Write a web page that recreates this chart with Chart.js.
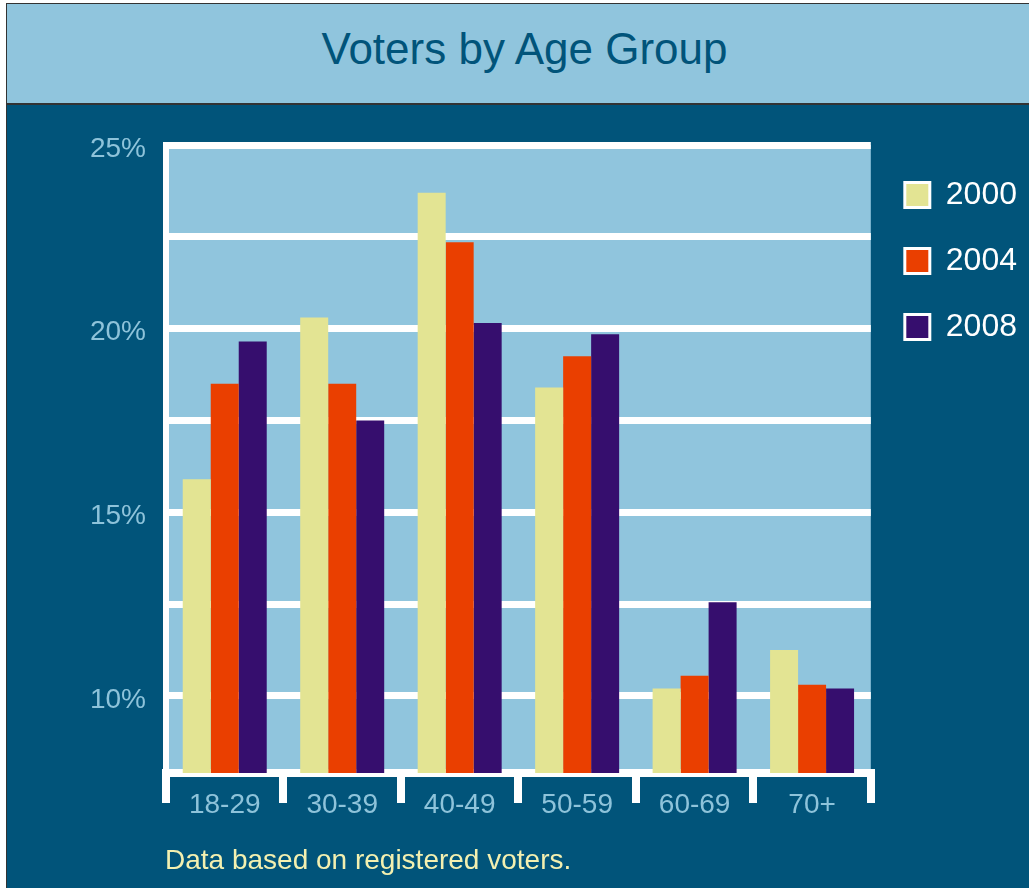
<!DOCTYPE html>
<html>
<head>
<meta charset="utf-8">
<script src="https://cdn.jsdelivr.net/npm/chart.js@4"></script>
<style>
  html, body { margin: 0; padding: 0; background: #ffffff; }
  body { width: 1029px; height: 888px; position: relative; overflow: hidden; font-family: "Liberation Sans", Arial, sans-serif; }
  #panel { position: absolute; left: 6px; top: 3px; right: -10px; bottom: -10px; background: #01547a; border-left: 1px solid #333; }
  #header { position: absolute; left: 6px; top: 3px; width: 1040px; height: 99px; background: #90c5dd; border-top: 1px solid #333; border-left: 1px solid #333; border-bottom: 2px solid #333; }
  #title { position: absolute; left: 0; top: 27px; width: 1049px; text-align: center; font-size: 44px; line-height: 44px; color: #01547a; }
  #note { position: absolute; left: 165px; top: 846px; font-size: 28px; line-height: 28px; color: #f3f0b0; }
  #chart { position: absolute; left: 0; top: 0; }
</style>
</head>
<body>
<div id="panel"></div>
<div id="header"></div>
<div id="title">Voters by Age Group</div>
<canvas id="chart" width="1029" height="888"></canvas>
<div id="note">Data based on registered voters.</div>
<script>
const ageGroups = ['18-29', '30-39', '40-49', '50-59', '60-69', '70+'];
const years = ['2000', '2004', '2008'];
const share2000 = [15.9, 20.3, 23.7, 18.4, 10.2, 11.25];
const share2004 = [18.5, 18.5, 22.35, 19.25, 10.55, 10.3];
const share2008 = [19.65, 17.5, 20.15, 19.85, 12.55, 10.2];
const gridTicks = [10, 12.5, 15, 17.5, 20, 22.5, 25];

const yearColors = ['#e3e493', '#ea3f00', '#360e6e'];
const labelBlue = '#8ec3da';
const fontFamily = '"Liberation Sans", Arial, sans-serif';

// light blue plot background
const plotBg = {
  id: 'plotBg',
  beforeDraw(chart) {
    const { ctx, chartArea: a } = chart;
    ctx.save();
    ctx.fillStyle = '#90c5dd';
    ctx.fillRect(a.left, a.top, a.right - a.left, a.bottom - a.top);
    ctx.restore();
  }
};

new Chart(document.getElementById('chart'), {
  type: 'bar',
  data: {
    labels: ageGroups,
    datasets: [share2000, share2004, share2008].map((values, i) => ({
      label: years[i],
      data: values,
      backgroundColor: yearColors[i],
      borderWidth: 0,
      categoryPercentage: 0.715,
      barPercentage: 1.0
    }))
  },
  options: {
    responsive: false,
    animation: false,
    layout: { padding: { top: 145, right: 2, bottom: 55, left: 0 } },
    plugins: {
      legend: {
        position: 'right',
        align: 'start',
        labels: {
          boxWidth: 25,
          boxHeight: 25,
          padding: 34,
          color: '#ffffff',
          font: { size: 32, family: fontFamily },
          generateLabels: (chart) => chart.data.datasets.map((ds, i) => ({
            text: ds.label,
            fillStyle: ds.backgroundColor,
            strokeStyle: '#ffffff',
            lineWidth: 3,
            fontColor: '#ffffff',
            datasetIndex: i
          }))
        }
      },
      tooltip: { enabled: false }
    },
    scales: {
      x: {
        offset: true,
        grid: { offset: true, drawOnChartArea: false, color: '#ffffff', lineWidth: 8, tickLength: 30 },
        border: { color: '#ffffff', width: 8 },
        ticks: { color: labelBlue, font: { size: 28, family: fontFamily }, padding: -15 },
        afterFit: (s) => { s.height = 60; }
      },
      y: {
        min: 7.9,
        max: 25,
        afterBuildTicks: (s) => { s.ticks = gridTicks.map((v) => ({ value: v })); },
        grid: { color: '#ffffff', lineWidth: 7, drawTicks: false },
        border: { color: '#ffffff', width: 6 },
        ticks: {
          color: labelBlue,
          font: { size: 28, family: fontFamily },
          padding: 20,
          labelOffset: 4,
          callback: (v) => (v % 5 === 0 ? v + '%' : '')
        },
        afterFit: (s) => { s.width = 166; }
      }
    }
  },
  plugins: [plotBg]
});
</script>
</body>
</html>
